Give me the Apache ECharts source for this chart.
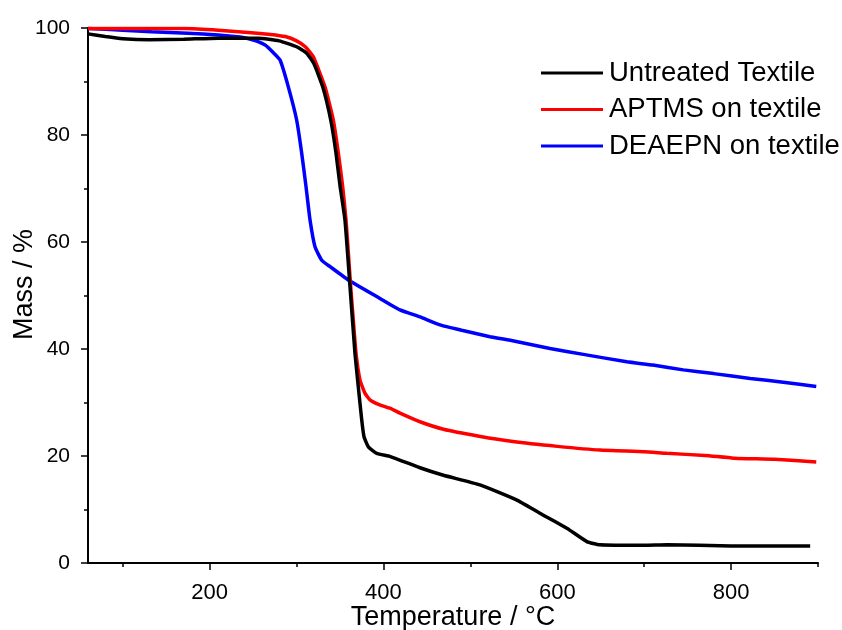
<!DOCTYPE html>
<html>
<head>
<meta charset="utf-8">
<script src="https://cdn.jsdelivr.net/npm/echarts@6/dist/echarts.min.js"></script>
<style>
  html, body { margin: 0; padding: 0; background: #fff; }
  #chart { width: 842px; height: 630px; }
</style>
</head>
<body>
<div id="chart"></div>
<script>
// TGA curves: temperature (°C) and mass (%)
const untreatedTemp = [60, 80, 100, 130, 170, 210, 256, 280, 300, 311.6, 320, 330.1, 339.3, 345.4, 350, 355.7, 361.5, 367.2, 371, 375, 377.6, 382.6, 392.2, 408, 442, 469, 511, 553, 580, 611, 634, 649, 700, 726, 800, 850, 891];
const untreatedMass = [98.9, 98.4, 98.0, 97.8, 97.9, 98.1, 98.1, 97.6, 96.5, 95.3, 93.3, 89.0, 82.8, 76.6, 70.5, 64.1, 51.6, 39.2, 33.0, 26.7, 23.6, 21.7, 20.5, 19.9, 17.8, 16.4, 14.6, 11.8, 9.3, 6.5, 4.0, 3.4, 3.3, 3.4, 3.2, 3.2, 3.2];

const aptmsTemp = [60, 120, 172, 210, 248, 270, 287, 300, 310, 319.3, 332.7, 342.3, 348.1, 353.1, 356.9, 359.6, 362.3, 365.3, 368.4, 373, 378.8, 384.5, 395, 408, 419, 442, 469, 510, 549, 600, 649, 700, 726, 770, 803, 850, 898];
const aptmsMass = [99.9, 99.9, 99.9, 99.6, 99.1, 98.8, 98.4, 97.6, 96.5, 94.6, 89.0, 82.8, 76.6, 70.3, 64.1, 57.9, 51.6, 45.4, 39.2, 34.2, 31.7, 30.5, 29.6, 28.9, 28.0, 26.4, 25.0, 23.7, 22.7, 21.8, 21.1, 20.8, 20.5, 20.1, 19.6, 19.4, 18.9];

const deaepnTemp = [60, 100, 133, 175, 210, 235, 245, 255, 264, 272, 281, 290.5, 300.1, 305.9, 310.9, 315.5, 321.2, 328.9, 338.5, 359.6, 392.2, 419, 442, 465, 490, 522.6, 550, 591.6, 630, 680, 710, 745, 780, 822, 860, 898];
const deaepnMass = [99.9, 99.6, 99.3, 99.0, 98.7, 98.3, 98.0, 97.5, 96.8, 95.6, 94.0, 89.0, 82.8, 76.6, 70.3, 64.1, 59.1, 56.6, 55.4, 52.9, 49.8, 47.3, 46.0, 44.5, 43.5, 42.3, 41.5, 40.1, 39.0, 37.6, 37.0, 36.1, 35.4, 34.5, 33.8, 33.0];

const seriesNames = ['Untreated Textile', 'APTMS on textile', 'DEAEPN on textile'];
const seriesColors = ['#000000', '#ff0000', '#0000ff'];
const xMajorTicks = [200, 400, 600, 800];
const xMinorTicks = [100, 300, 500, 700, 900];

const zip = (xs, ys) => xs.map((x, i) => [x, ys[i]]);
const curves = [zip(untreatedTemp, untreatedMass), zip(aptmsTemp, aptmsMass), zip(deaepnTemp, deaepnMass)];

const font = '"Liberation Sans", Arial, sans-serif';
const chart = echarts.init(document.getElementById('chart'));

chart.setOption({
  animation: false,
  grid: { left: 88, right: 24, top: 28, bottom: 67, containLabel: false, outerBoundsMode: 'none' },
  legend: {
    orient: 'vertical',
    left: 541,
    top: 59,
    padding: 0,
    itemWidth: 62,
    itemHeight: 3,
    itemGap: 8.5,
    icon: 'rect',
    textStyle: { fontFamily: font, fontSize: 27.5, color: '#000', padding: [0, 0, 0, 1] },
    data: seriesNames
  },
  xAxis: [
    {
      type: 'value', min: 60, max: 900,
      name: 'Temperature / °C', nameLocation: 'middle', nameGap: 41, nameMoveOverlap: false,
      nameTextStyle: { fontFamily: font, fontSize: 27, color: '#000' },
      axisLine: { onZero: false, lineStyle: { color: '#000', width: 2 } },
      axisTick: { show: true, length: 7, lineStyle: { color: '#000', width: 1.5 }, customValues: xMajorTicks },
      axisLabel: { fontFamily: font, fontSize: 22, color: '#000', margin: 19, customValues: xMajorTicks },
      splitLine: { show: false }
    },
    {
      type: 'value', min: 60, max: 900, position: 'bottom',
      axisLine: { show: false },
      axisTick: { show: true, length: 4, lineStyle: { color: '#000', width: 1.5 }, customValues: xMinorTicks },
      axisLabel: { show: false },
      splitLine: { show: false }
    }
  ],
  yAxis: {
    type: 'value', min: 0, max: 100, interval: 20,
    name: 'Mass / %', nameLocation: 'middle', nameGap: 50, nameMoveOverlap: false,
    nameTextStyle: { fontFamily: font, fontSize: 27, color: '#000', padding: [0, 0, 0, 22] },
    axisLine: { show: true, lineStyle: { color: '#000', width: 2 } },
    axisTick: { show: true, length: 7, lineStyle: { color: '#000', width: 1.5 } },
    minorTick: { show: true, splitNumber: 2, length: 4, lineStyle: { color: '#000', width: 1.5 } },
    axisLabel: { fontFamily: font, fontSize: 21, color: '#000', margin: 18 },
    splitLine: { show: false }
  },
  series: curves.map((data, i) => ({
    type: 'line',
    name: seriesNames[i],
    data: data,
    showSymbol: false,
    smooth: 0.15,
    color: seriesColors[i],
    lineStyle: { width: 3.5, color: seriesColors[i] },
    z: 3 - i
  }))
});
</script>
</body>
</html>
